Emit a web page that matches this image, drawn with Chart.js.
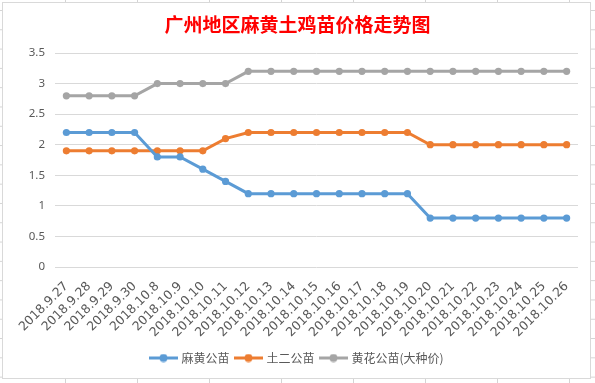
<!DOCTYPE html>
<html>
<head>
<meta charset="utf-8">
<script src="https://cdn.jsdelivr.net/npm/chart.js@4/dist/chart.umd.min.js"></script>
<style>
  html, body { margin: 0; padding: 0; }
  body {
    width: 595px; height: 383px; position: relative; overflow: hidden;
    background-color: #fff;
    background-image: linear-gradient(to right, #d4d4d4 1px, transparent 1px),
                      linear-gradient(to bottom, #d4d4d4 1px, transparent 1px);
    background-size: 72px 100%, 100% 19.3px;
    background-position: 65px 0, 0 10px;
  }
  #box {
    position: absolute; left: 2px; top: 2px; width: 589px; height: 377px;
    box-sizing: border-box; border: 1px solid #d9d9d9; background: #fff;
  }
  #chart { position: absolute; left: 0; top: 0; }
</style>
</head>
<body>
<div id="box"></div>
<canvas id="chart" width="595" height="383"></canvas>
<script>
const dates = ['2018.9.27', '2018.9.28', '2018.9.29', '2018.9.30', '2018.10.8', '2018.10.9',
    '2018.10.10', '2018.10.11', '2018.10.12', '2018.10.13', '2018.10.14', '2018.10.15',
    '2018.10.16', '2018.10.17', '2018.10.18', '2018.10.19', '2018.10.20', '2018.10.21',
    '2018.10.22', '2018.10.23', '2018.10.24', '2018.10.25', '2018.10.26'];

const mahuang = [2.2, 2.2, 2.2, 2.2, 1.8, 1.8, 1.6, 1.4, 1.2, 1.2, 1.2, 1.2,
    1.2, 1.2, 1.2, 1.2, 0.8, 0.8, 0.8, 0.8, 0.8, 0.8, 0.8];
const tuer = [1.9, 1.9, 1.9, 1.9, 1.9, 1.9, 1.9, 2.1, 2.2, 2.2, 2.2, 2.2,
    2.2, 2.2, 2.2, 2.2, 2.0, 2.0, 2.0, 2.0, 2.0, 2.0, 2.0];
const huanghua = [2.8, 2.8, 2.8, 2.8, 3.0, 3.0, 3.0, 3.0, 3.2, 3.2, 3.2, 3.2,
    3.2, 3.2, 3.2, 3.2, 3.2, 3.2, 3.2, 3.2, 3.2, 3.2, 3.2];

const seriesNames = ['麻黄公苗', '土二公苗', '黄花公苗(大种价)'];
const colors = ['#5b9bd5', '#ed7d31', '#a5a5a5'];

// legend marker: short line with a dot in the middle
function legendMark(color) {
    const c = document.createElement('canvas');
    c.width = 29;
    c.height = 9;
    const g = c.getContext('2d');
    g.strokeStyle = color;
    g.lineWidth = 3;
    g.beginPath();
    g.moveTo(0, 4.5);
    g.lineTo(29, 4.5);
    g.stroke();
    g.fillStyle = color;
    g.beginPath();
    g.arc(14.5, 4.5, 4, 0, Math.PI * 2);
    g.fill();
    return c;
}
const marks = colors.map(legendMark);

function makeSet(i, values) {
    return {
        label: seriesNames[i],
        data: values,
        borderColor: colors[i],
        backgroundColor: colors[i],
        pointBackgroundColor: colors[i],
        pointBorderWidth: 0,
        pointRadius: 3.6,
        pointStyle: 'circle',
        borderWidth: 3,
        tension: 0
    };
}

Chart.defaults.font.family = '"Noto Sans", "Noto Sans CJK SC", sans-serif';
Chart.defaults.color = '#595959';

new Chart(document.getElementById('chart').getContext('2d'), {
    type: 'line',
    data: {
        labels: dates,
        datasets: [makeSet(0, mahuang), makeSet(1, tuer), makeSet(2, huanghua)]
    },
    options: {
        responsive: false,
        animation: false,
        layout: { padding: { left: 17, right: 17, top: 0, bottom: 9 } },
        plugins: {
            title: {
                display: true,
                text: '广州地区麻黄土鸡苗价格走势图',
                color: '#ff0000',
                font: { family: '"Noto Sans CJK SC"', size: 19, weight: 'bold' },
                padding: { top: 13, bottom: 17.2 }
            },
            legend: {
                position: 'bottom',
                labels: {
                    usePointStyle: true,
                    pointStyleWidth: 24,
                    boxHeight: 12,
                    padding: 7,
                    color: '#595959',
                    font: { family: '"Noto Sans CJK SC"', size: 12 },
                    generateLabels: (chart) => {
                        const items = Chart.defaults.plugins.legend.labels.generateLabels(chart);
                        items.forEach((it, i) => { it.pointStyle = marks[i]; });
                        return items;
                    }
                }
            },
            tooltip: { enabled: false }
        },
        scales: {
            x: {
                offset: true,
                grid: { display: false },
                border: { display: false },
                ticks: {
                    minRotation: 45,
                    maxRotation: 45,
                    autoSkip: false,
                    padding: 4,
                    color: '#595959',
                    font: { family: '"DejaVu Sans"', size: 12.5 }
                },
                afterFit: (scale) => { scale.height = 78; }
            },
            y: {
                min: 0,
                max: 3.5,
                grid: { color: '#d9d9d9', drawTicks: false },
                border: { display: false },
                ticks: {
                    stepSize: 0.5,
                    padding: 10,
                    color: '#595959',
                    font: { size: 11.5 },
                    callback: (v) => String(v)
                },
                afterFit: (scale) => { scale.width = 38; }
            }
        }
    }
});
</script>
</body>
</html>
